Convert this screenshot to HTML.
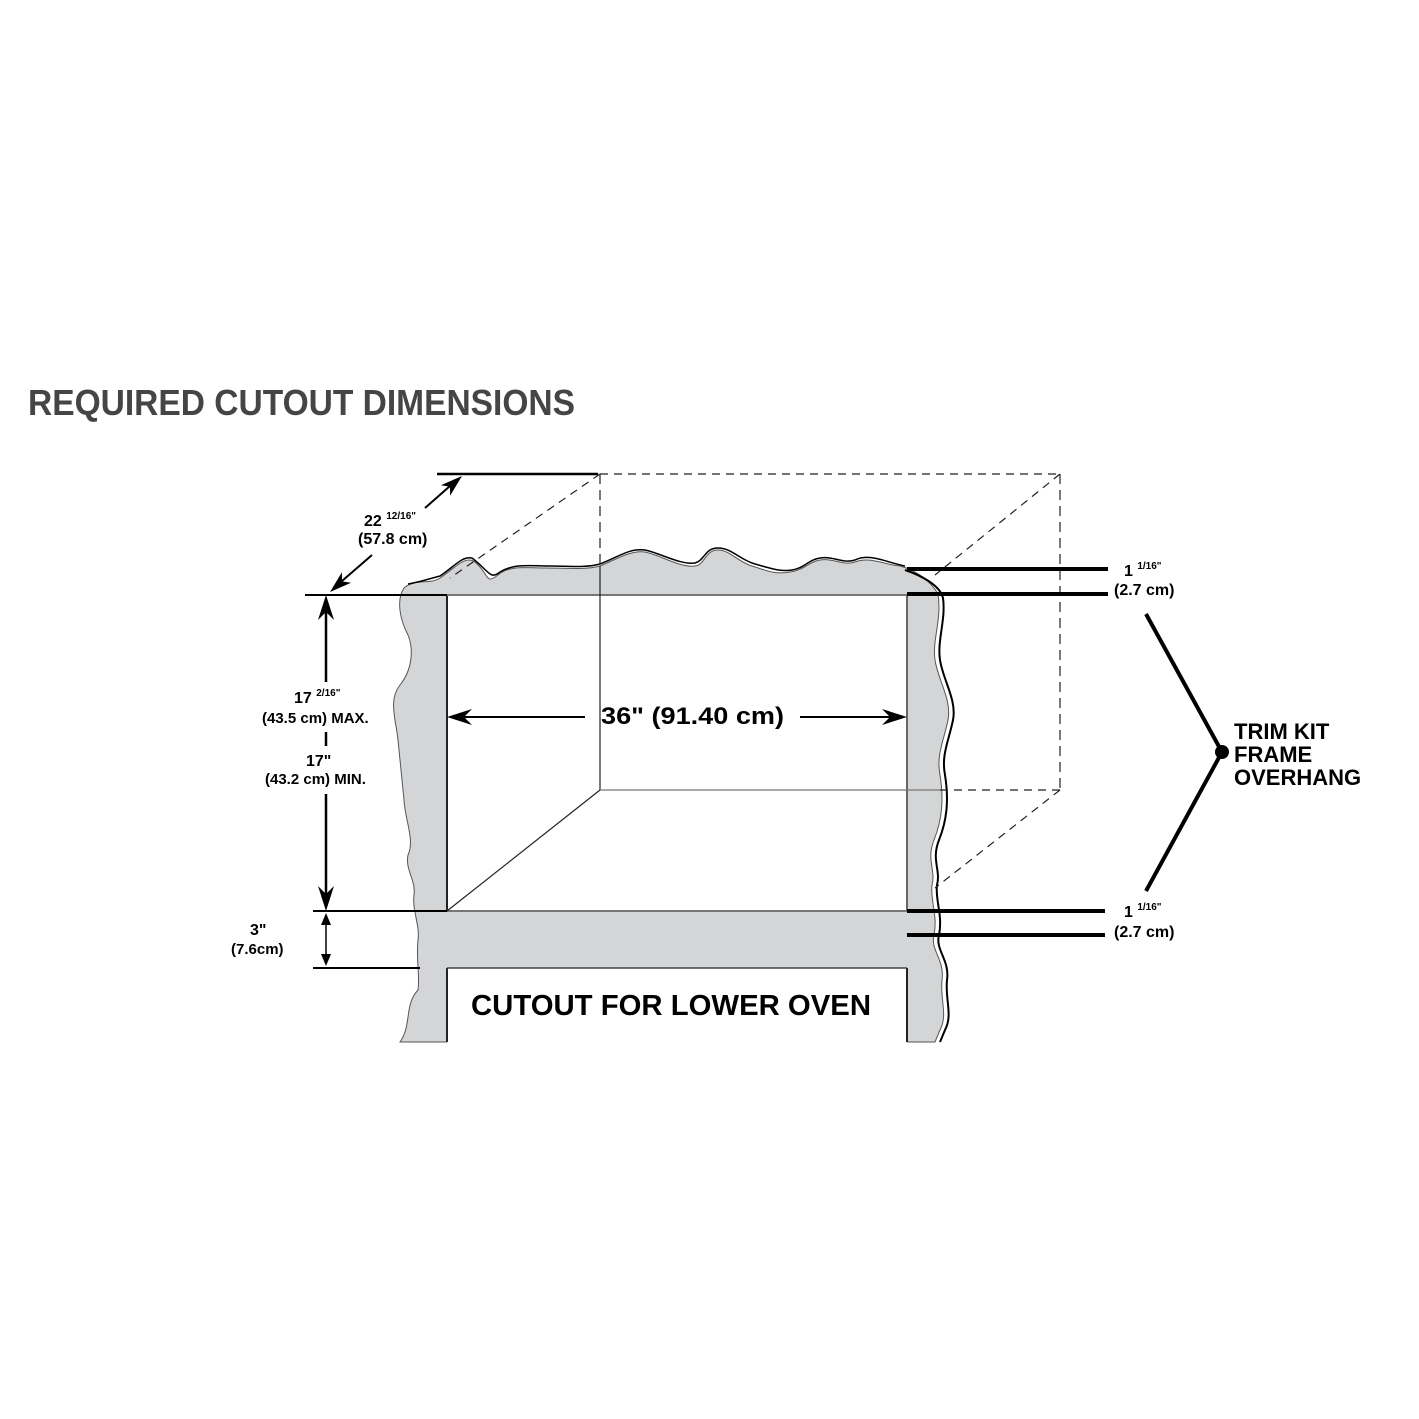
<!DOCTYPE html>
<html><head><meta charset="utf-8"><style>
html,body{margin:0;padding:0;background:#fff;}
svg{display:block;}
text{font-family:"Liberation Sans",sans-serif;}
</style></head><body>
<svg width="1419" height="1419" viewBox="0 0 1419 1419" xmlns="http://www.w3.org/2000/svg">
<rect width="1419" height="1419" fill="#fff"/>
<text x="28" y="415" font-size="36" font-weight="bold" fill="#454545" textLength="547" lengthAdjust="spacingAndGlyphs">REQUIRED CUTOUT DIMENSIONS</text>

<!-- gray frame -->
<path d="M400,1042 C412,1025 404,1005 418,990 C420,975 416,960 418,940 C420,925 412,910 414,895 C416,880 405,870 408,855 C415,840 405,820 404,800 C402,780 400,760 398,740 C396,720 388,700 400,685 C412,670 414,650 408,635 C400,620 396,600 404,588 C415,578 430,585 440,578 C455,568 465,555 475,562 C490,575 485,585 498,575 C510,565 525,568 545,568 C570,568 585,570 600,566 C615,560 630,550 645,552 C660,555 680,568 695,566 C705,565 705,550 718,550 C730,550 738,562 752,566 C765,570 775,575 790,572 C805,570 808,562 820,560 C835,558 842,566 855,562 C870,556 885,565 900,566 C915,570 930,580 938,594 C942,620 932,640 935,660 C938,680 952,700 948,720 C944,740 936,755 940,775 C944,800 942,820 934,840 C926,860 936,870 932,885 C930,900 938,915 934,935 C930,950 945,960 942,980 C940,1000 948,1015 940,1030 L935,1042 Z" fill="#d4d5d7" stroke="#555" stroke-width="1"/>
<path d="M905,570 C920,575 940,585 943,598 C946,620 937,640 940,660 C943,680 957,700 953,720 C949,740 941,755 945,775 C949,800 947,820 939,840 C931,860 941,870 937,885 C935,900 943,915 939,935 C935,950 950,960 947,980 C945,1000 953,1015 945,1030 L940,1042" fill="none" stroke="#000" stroke-width="2"/>
<path d="M408,584 C420,582 432,578 440,576 C455,566 462,556 472,558 C490,572 490,580 500,572 C515,563 530,566 550,566 C570,566 585,568 600,564" fill="none" stroke="#000" stroke-width="1.5"/>
<path d="M600,564 C620,556 630,548 645,550 C660,553 680,565 695,563 C705,560 705,548 718,548 C732,548 740,560 755,564 C770,568 780,572 792,570 C805,568 808,560 820,558 C835,556 842,564 855,560 C870,553 885,562 905,566" fill="none" stroke="#000" stroke-width="1.5"/>

<!-- cutouts -->
<rect x="447" y="595" width="460" height="316" fill="#fff"/>
<rect x="447" y="968" width="460" height="80" fill="#fff"/>
<line x1="447" y1="595" x2="447" y2="911" stroke="#222" stroke-width="2"/>
<line x1="907" y1="595" x2="907" y2="911" stroke="#666" stroke-width="2"/>
<line x1="447" y1="595" x2="907" y2="595" stroke="#777" stroke-width="2"/>
<line x1="447" y1="911" x2="907" y2="911" stroke="#777" stroke-width="2"/>
<line x1="447" y1="968" x2="447" y2="1042" stroke="#222" stroke-width="2"/>
<line x1="907" y1="968" x2="907" y2="1042" stroke="#222" stroke-width="2"/>
<line x1="447" y1="968" x2="907" y2="968" stroke="#444" stroke-width="1.5"/>

<!-- back box -->
<g stroke="#222" stroke-width="1.2" fill="none">
<line x1="600" y1="474" x2="1060" y2="474" stroke-dasharray="8,6"/>
<line x1="600" y1="474" x2="600" y2="566" stroke-dasharray="10,6"/>
<line x1="600" y1="566" x2="600" y2="790"/>
<line x1="1060" y1="474" x2="1060" y2="790" stroke-dasharray="10,6"/>
<line x1="600" y1="790" x2="940" y2="790" stroke="#777"/>
<line x1="940" y1="790" x2="1060" y2="790" stroke-dasharray="8,6"/>
<line x1="600" y1="474" x2="450" y2="578" stroke-dasharray="8,6"/>
<line x1="1060" y1="474" x2="935" y2="575" stroke-dasharray="8,6"/>
<line x1="1060" y1="790" x2="935" y2="888" stroke-dasharray="8,6"/>
<line x1="600" y1="790" x2="447" y2="911"/>
</g>

<!-- dimension lines -->
<g stroke="#000" fill="none">
<line x1="437" y1="474" x2="598" y2="474" stroke-width="2.5"/>
<line x1="305" y1="595" x2="447" y2="595" stroke-width="2"/>
<line x1="313" y1="911" x2="447" y2="911" stroke-width="2"/>
<line x1="313" y1="968" x2="420" y2="968" stroke-width="2"/>
<line x1="342" y1="581" x2="372" y2="555" stroke-width="2"/>
<line x1="425" y1="508" x2="450" y2="486" stroke-width="2"/>
<line x1="326" y1="610" x2="326" y2="682" stroke-width="2.5"/>
<line x1="326" y1="732" x2="326" y2="746" stroke-width="2.5"/>
<line x1="326" y1="794" x2="326" y2="895" stroke-width="2.5"/>
<line x1="326" y1="918" x2="326" y2="962" stroke-width="1.5"/>
<line x1="460" y1="717" x2="585" y2="717" stroke-width="2"/>
<line x1="800" y1="717" x2="895" y2="717" stroke-width="2"/>
<line x1="907" y1="569" x2="1108" y2="569" stroke-width="4"/>
<line x1="907" y1="594" x2="1108" y2="594" stroke-width="4"/>
<line x1="907" y1="911" x2="1105" y2="911" stroke-width="4"/>
<line x1="907" y1="935" x2="1105" y2="935" stroke-width="4"/>
<polyline points="1146,614 1222,752 1146,891" stroke-width="4"/>
</g>
<g fill="#000">
<polygon points="330,592 351.1,582.8 342,581.4 341.9,572.2"/>
<polygon points="462,476 450.1,495.8 450,486.6 440.9,485.2"/>
<polygon points="326,595 318,620 326,612 334,620"/>
<polygon points="326,911 318,886 326,894 334,886"/>
<polygon points="326,913 321,925 331,925"/>
<polygon points="326,966 321,954 331,954"/>
<polygon points="447,717 472,709 464,717 472,725"/>
<polygon points="907,717 882,709 890,717 882,725"/>
<circle cx="1222" cy="752" r="7"/>
</g>

<!-- labels -->
<g fill="#000" font-weight="bold">
<text x="364" y="526" font-size="16">22 <tspan font-size="10" dy="-7">12/16"</tspan></text>
<text x="358" y="544" font-size="16">(57.8 cm)</text>
<text x="294" y="703" font-size="16">17 <tspan font-size="10" dy="-7">2/16"</tspan></text>
<text x="262" y="723" font-size="15">(43.5 cm) MAX.</text>
<text x="306" y="766" font-size="16">17"</text>
<text x="265" y="784" font-size="15">(43.2 cm) MIN.</text>
<text x="250" y="935" font-size="16">3"</text>
<text x="231" y="954" font-size="15">(7.6cm)</text>
<text x="601" y="724" font-size="24" textLength="183" lengthAdjust="spacingAndGlyphs">36" (91.40 cm)</text>
<text x="471" y="1015" font-size="29" textLength="400" lengthAdjust="spacingAndGlyphs">CUTOUT FOR LOWER OVEN</text>
<text x="1124" y="576" font-size="16">1 <tspan font-size="10" dy="-7">1/16"</tspan></text>
<text x="1114" y="595" font-size="16">(2.7 cm)</text>
<text x="1124" y="917" font-size="16">1 <tspan font-size="10" dy="-7">1/16"</tspan></text>
<text x="1114" y="937" font-size="16">(2.7 cm)</text>
<text x="1234" y="739" font-size="22">TRIM KIT</text>
<text x="1234" y="762" font-size="22">FRAME</text>
<text x="1234" y="785" font-size="22">OVERHANG</text>
</g>
</svg>
</body></html>
